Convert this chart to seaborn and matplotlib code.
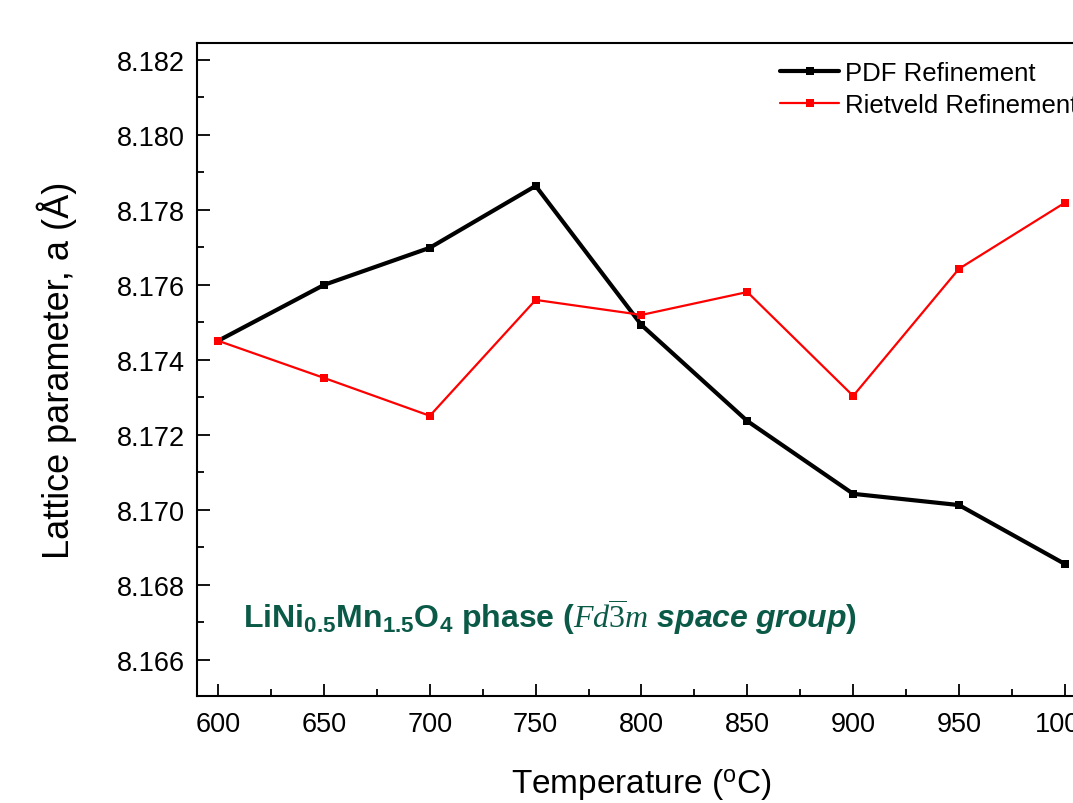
import matplotlib
matplotlib.use("Agg")
import matplotlib.pyplot as plt
import seaborn as sns
import pandas as pd
from matplotlib.ticker import MultipleLocator, FormatStrFormatter

temperature = [600, 650, 700, 750, 800, 850, 900, 950, 1000]
pdf_refinement = [8.17451, 8.17600, 8.17699, 8.17864, 8.17493, 8.17237, 8.17043, 8.17013, 8.16856]
rietveld_refinement = [8.17451, 8.17352, 8.17251, 8.17560, 8.17520, 8.17581, 8.17304, 8.17643, 8.17819]

df = pd.DataFrame({
    "Temperature": temperature,
    "PDF Refinement": pdf_refinement,
    "Rietveld Refinement": rietveld_refinement,
})

sns.set_style("ticks")
plt.rcParams["font.family"] = ["Liberation Sans", "DejaVu Sans"]
plt.rcParams["text.color"] = "black"
plt.rcParams["axes.labelcolor"] = "black"
plt.rcParams["xtick.color"] = "black"
plt.rcParams["ytick.color"] = "black"
plt.rcParams["mathtext.fontset"] = "custom"
plt.rcParams["mathtext.it"] = "Liberation Serif:italic"
plt.rcParams["mathtext.rm"] = "Liberation Serif"
plt.rcParams["mathtext.sf"] = "Liberation Sans:italic:bold"

fig = plt.figure(figsize=(10.73, 8.04), dpi=100)
ax = fig.add_axes([0.1836, 0.1331, 0.8285, 0.8122])

sns.lineplot(data=df, x="Temperature", y="PDF Refinement", ax=ax, color="black",
             linewidth=3, marker="s", markersize=6, markeredgewidth=0,
             label="PDF Refinement")
sns.lineplot(data=df, x="Temperature", y="Rietveld Refinement", ax=ax, color="#ff0000",
             linewidth=1.6, marker="s", markersize=5.5, markeredgewidth=0,
             label="Rietveld Refinement")

ax.set_xlim(590, 1010)
ax.set_ylim(8.16504, 8.18245)
ax.xaxis.set_major_locator(MultipleLocator(50))
ax.xaxis.set_minor_locator(MultipleLocator(25))
ax.yaxis.set_major_locator(MultipleLocator(0.002))
ax.yaxis.set_minor_locator(MultipleLocator(0.001))
ax.yaxis.set_major_formatter(FormatStrFormatter("%.3f"))

ax.tick_params(which="major", direction="in", length=9, width=1.3, labelsize=19.5,
               top=False, right=False)
ax.tick_params(axis="x", which="major", pad=11)
ax.tick_params(axis="y", which="major", pad=9)
ax.tick_params(which="minor", direction="in", length=5, width=1.3, top=False, right=False)
for s in ax.spines.values():
    s.set_linewidth(1.5)
    s.set_color("black")

ax.set_xlabel(r"Temperature ($^\mathregular{o}$C)", fontsize=24, labelpad=21)
ax.set_ylabel("Lattice parameter, a (Å)", fontsize=26, labelpad=28)

ax.legend(loc="upper left", bbox_to_anchor=(0.636, 1.0), frameon=False, fontsize=18.5,
          handlelength=2.3, handletextpad=0.2, labelspacing=0.3, borderaxespad=0.3)

ax.text(0.052, 0.1225,
        r"LiNi$_\mathregular{0.5}$Mn$_\mathregular{1.5}$O$_\mathregular{4}$ phase "
        r"($Fd\overline{3}m$ $\mathsf{space\ group}$)",
        transform=ax.transAxes, ha="left", va="center", fontsize=23,
        fontweight="bold", color="#0b5a48")

fig.savefig("out.png", dpi=100)
